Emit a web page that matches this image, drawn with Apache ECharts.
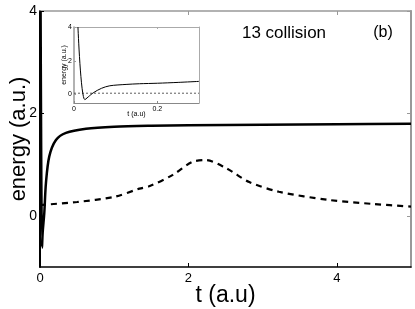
<!DOCTYPE html>
<html><head><meta charset="utf-8">
<script src="https://cdn.jsdelivr.net/npm/echarts@6/dist/echarts.min.js"></script>
<style>html,body{margin:0;padding:0;background:#fff}#c{width:415px;height:309px}</style>
</head><body><div id="c"></div>
<script>
// Main panel data
const mainSolidT = [0.008, 0.027, 0.036, 0.058, 0.08, 0.125, 0.215, 0.35, 0.62, 1.0, 1.5, 2.0, 3.0, 4.0, 5.0];
const mainSolidE = [4.0, -0.62, -0.33, 0.06, 0.64, 1.16, 1.48, 1.62, 1.70, 1.74, 1.76, 1.77, 1.78, 1.79, 1.80];
const mainDashT = [0, 0.5, 1.0, 1.34, 1.48, 1.79, 2.05, 2.23, 2.51, 2.82, 3.22, 3.89, 4.5, 5.0];
const mainDashE = [0.21, 0.27, 0.37, 0.53, 0.58, 0.80, 1.05, 1.09, 0.93, 0.66, 0.47, 0.31, 0.23, 0.18];
const mainXTicks = [0, 2, 4];
const mainYTicks = [0, 2, 4];
// Inset data
const insetSolidT = [0.0095, 0.026, 0.046, 0.066, 0.086, 0.125, 0.157, 0.2, 0.25, 0.3];
const insetSolidE = [4.0, -0.30, 0.10, 0.37, 0.52, 0.60, 0.64, 0.67, 0.72, 0.78];
const insetDashT = [0, 0.3];
const insetDashE = [0.08, 0.08];
const insetXTicks = [0, 0.2];
const insetYTicks = [0, 2, 4];

const pairs = (a, b) => a.map((v, i) => [v, b[i]]);
const FF = 'Liberation Sans, Arial, sans-serif';
const chart = echarts.init(document.getElementById('c'), null, {renderer: 'canvas'});

chart.setOption({
  backgroundColor: '#fff',
  animation: false,
  title: [
    {text: '13 collision', left: 279, top: 28, textAlign: 'center', textVerticalAlign: 'middle',
     textStyle: {fontFamily: FF, fontSize: 17, fontWeight: 'normal', color: '#000'}},
    {text: '(b)', left: 378, top: 28, textAlign: 'center', textVerticalAlign: 'middle',
     textStyle: {fontFamily: FF, fontSize: 16, fontWeight: 'normal', color: '#000'}}
  ],
  grid: [
    {left: 40, right: 4, top: 11, bottom: 42, show: false, containLabel: false, outerBoundsMode: 'none'},
    {left: 74, right: 216, top: 27, bottom: 206, show: true, backgroundColor: '#fff', borderWidth: 0,
     containLabel: false, outerBoundsMode: 'none'}
  ],
  xAxis: [
    {gridIndex: 0, type: 'value', min: 0, max: 5, position: 'bottom',
     name: 't (a.u)', nameLocation: 'middle', nameGap: 17, nameMoveOverlap: false,
     nameTextStyle: {fontFamily: FF, fontSize: 23, color: '#000'},
     axisLine: {show: true, onZero: false, lineStyle: {color: '#000', width: 1.5}},
     axisTick: {show: true, inside: true, length: 4, customValues: mainXTicks, lineStyle: {color: '#000'}},
     axisLabel: {fontFamily: FF, fontSize: 13, color: '#000', margin: 5, customValues: mainXTicks},
     splitLine: {show: false}},
    {gridIndex: 0, type: 'value', min: 0, max: 5, position: 'top',
     axisLine: {show: true, onZero: false, lineStyle: {color: '#999', width: 1.5}},
     axisTick: {show: true, inside: true, length: 4, customValues: mainXTicks, lineStyle: {color: '#999'}},
     axisLabel: {show: false}, splitLine: {show: false}},
    {gridIndex: 1, type: 'value', min: 0, max: 0.3, position: 'bottom',
     name: 't (a.u)', nameLocation: 'middle', nameGap: 8, nameMoveOverlap: false,
     nameTextStyle: {fontFamily: FF, fontSize: 7, color: '#000'},
     axisLine: {show: true, onZero: false, lineStyle: {color: '#888', width: 1}},
     axisTick: {show: true, inside: true, length: 2, customValues: insetXTicks, lineStyle: {color: '#888'}},
     axisLabel: {fontFamily: FF, fontSize: 7, color: '#000', margin: 3, customValues: insetXTicks},
     splitLine: {show: false}},
    {gridIndex: 1, type: 'value', min: 0, max: 0.3, position: 'top',
     axisLine: {show: true, onZero: false, lineStyle: {color: '#aaa', width: 1}},
     axisTick: {show: true, inside: true, length: 2, customValues: insetXTicks, lineStyle: {color: '#aaa'}},
     axisLabel: {show: false}, splitLine: {show: false}}
  ],
  yAxis: [
    {gridIndex: 0, type: 'value', min: -1, max: 4, position: 'left',
     name: 'energy (a.u.)', nameLocation: 'middle', nameGap: 10, nameMoveOverlap: false,
     nameTextStyle: {fontFamily: FF, fontSize: 22, color: '#000'},
     axisLine: {show: true, onZero: false, lineStyle: {color: '#000', width: 2}},
     axisTick: {show: true, inside: true, length: 4, customValues: mainYTicks, lineStyle: {color: '#000'}},
     axisLabel: {fontFamily: FF, fontSize: 14, color: '#000', margin: 3, customValues: mainYTicks},
     splitLine: {show: false}},
    {gridIndex: 0, type: 'value', min: -1, max: 4, position: 'right',
     axisLine: {show: true, onZero: false, lineStyle: {color: '#999', width: 2}},
     axisTick: {show: true, inside: true, length: 4, customValues: mainYTicks, lineStyle: {color: '#999'}},
     axisLabel: {show: false}, splitLine: {show: false}},
    {gridIndex: 1, type: 'value', min: -0.5, max: 4, position: 'left',
     name: 'energy (a.u.)', nameLocation: 'middle', nameGap: 6, nameMoveOverlap: false,
     nameTextStyle: {fontFamily: FF, fontSize: 7, color: '#000'},
     axisLine: {show: true, onZero: false, lineStyle: {color: '#999', width: 1.5}},
     axisTick: {show: true, inside: true, length: 2, customValues: insetYTicks, lineStyle: {color: '#999'}},
     axisLabel: {fontFamily: FF, fontSize: 7, color: '#000', margin: 2, customValues: insetYTicks},
     splitLine: {show: false}},
    {gridIndex: 1, type: 'value', min: -0.5, max: 4, position: 'right',
     axisLine: {show: true, onZero: false, lineStyle: {color: '#aaa', width: 1}},
     axisTick: {show: false}, axisLabel: {show: false}, splitLine: {show: false}}
  ],
  series: [
    {type: 'line', xAxisIndex: 0, yAxisIndex: 0, data: pairs(mainDashT, mainDashE), smooth: 0.3,
     showSymbol: false, lineStyle: {color: '#000', width: 2.2, type: [6, 5]}},
    {type: 'line', xAxisIndex: 0, yAxisIndex: 0, data: pairs(mainSolidT, mainSolidE), smooth: 0.3,
     showSymbol: false, lineStyle: {color: '#000', width: 2.5}},
    {type: 'line', xAxisIndex: 2, yAxisIndex: 2, data: pairs(insetDashT, insetDashE),
     showSymbol: false, lineStyle: {color: '#333', width: 0.8, type: [2, 2]}},
    {type: 'line', xAxisIndex: 2, yAxisIndex: 2, data: pairs(insetSolidT, insetSolidE), smooth: 0.3,
     showSymbol: false, lineStyle: {color: '#000', width: 1}}
  ]
});
</script></body></html>
